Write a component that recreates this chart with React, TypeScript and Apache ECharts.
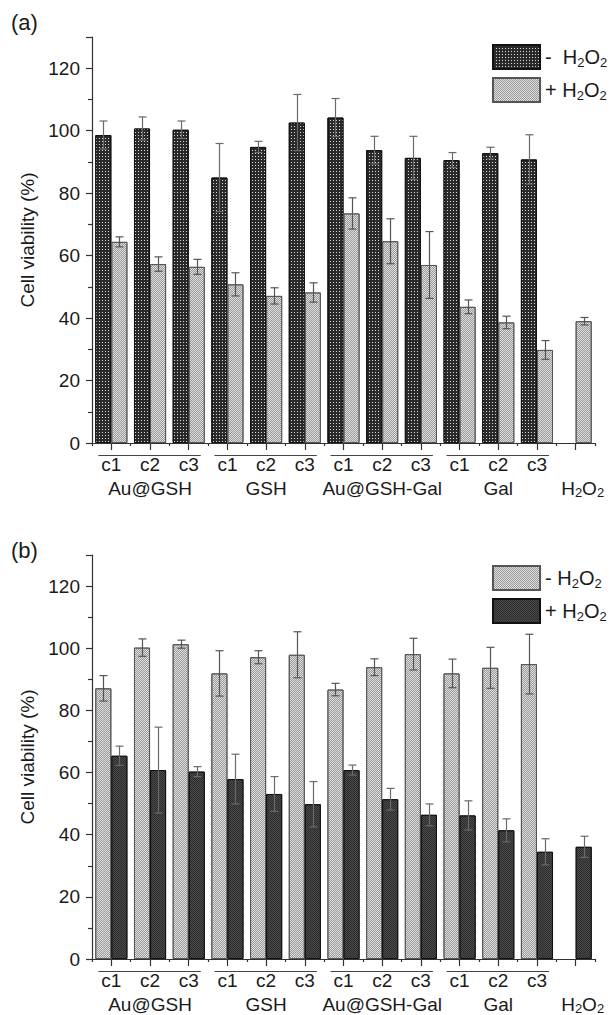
import React, { useEffect, useRef } from 'react';
import * as echarts from 'echarts';

// ---------------- data ----------------
const groupNames = ['Au@GSH', 'GSH', 'Au@GSH-Gal', 'Gal'];
const concLabels = ['c1', 'c2', 'c3'];
const controlName = 'H2O2';
const categories = [
  ...groupNames.flatMap((g) => concLabels.map((c) => g + '|' + c)),
  controlName + '|',
];

// panel (a)
const aMinus = [98.6, 100.7, 100.3, 85.0, 94.8, 102.6, 104.2, 93.8, 91.3, 90.6, 92.8, 90.8, null];
const aMinusErr = [4.5, 3.7, 2.8, 10.9, 1.8, 9.0, 6.1, 4.4, 6.9, 2.4, 1.9, 7.9, null];
const aPlus = [64.4, 57.3, 56.4, 50.8, 47.1, 48.2, 73.5, 64.6, 57.0, 43.6, 38.6, 29.8, 39.0];
const aPlusErr = [1.6, 2.3, 2.4, 3.7, 2.6, 3.1, 5.0, 7.2, 10.7, 2.2, 2.0, 3.0, 1.2];

// panel (b)
const bMinus = [87.1, 100.2, 101.3, 91.9, 97.1, 97.9, 86.7, 93.9, 98.1, 91.9, 93.7, 94.9, null];
const bMinusErr = [4.1, 2.8, 1.3, 7.3, 2.1, 7.4, 2.0, 2.7, 5.1, 4.6, 6.6, 9.6, null];
const bPlus = [65.4, 60.8, 60.3, 57.9, 53.1, 49.8, 60.8, 51.4, 46.4, 46.2, 41.4, 34.5, 36.1];
const bPlusErr = [3.1, 13.8, 1.6, 8.0, 5.6, 7.3, 1.6, 3.5, 3.5, 4.7, 3.7, 4.2, 3.4];

const yMin = 0;
const yMax = 130;
const yInterval = 20;
const yName = 'Cell viability (%)';

// ---------------- styles ----------------
const FONT = "'Liberation Sans', Arial, Helvetica, sans-serif";
const TEXT_COLOR = '#1a1a1a';
const AXIS_COLOR = '#333333';
const BAR_FRAC = 0.415;
const FS = 19;

const darkDotted = {
  color: '#2a2a2a',
  borderColor: '#111111',
  borderWidth: 1,
  decal: {
    symbol: 'rect',
    symbolSize: 1,
    color: '#d8d8d8',
    dashArrayX: [1, 2],
    dashArrayY: [1, 2],
    rotation: 0,
  },
};
const lightChecker = {
  color: '#e0e0e0',
  borderColor: '#555555',
  borderWidth: 1,
  decal: {
    symbol: 'rect',
    symbolSize: 1,
    color: '#989898',
    dashArrayX: [[1, 1], [0, 1, 1, 0]],
    dashArrayY: [1, 0],
    rotation: 0,
  },
};
const darkChecker = {
  color: '#2c2c2c',
  borderColor: '#111111',
  borderWidth: 1,
  decal: {
    symbol: 'rect',
    symbolSize: 1,
    color: '#4a4a4a',
    dashArrayX: [[1, 1], [0, 1, 1, 0]],
    dashArrayY: [1, 0],
    rotation: 0,
  },
};

function errorSeries(name: string, values: (number | null)[], errs: (number | null)[], side: number, axisIndex: number, color: string) {
  const data = values
    .map((v, i) => (v == null || errs[i] == null ? null : [i, v, errs[i]]))
    .filter((d) => d !== null);
  return {
    type: 'custom',
    name,
    xAxisIndex: axisIndex * 2,
    yAxisIndex: axisIndex,
    z: 5,
    silent: true,
    encode: { x: 0, y: 1 },
    data,
    renderItem: (params: any, api: any) => {
      const idx = api.value(0);
      const v = api.value(1);
      const e = api.value(2);
      const band = api.size([1, 0])[0];
      const off = (side * band * BAR_FRAC) / 2;
      const pTop = api.coord([idx, v + e]);
      const pBot = api.coord([idx, v - e]);
      const x = Math.round(pTop[0] + off) + 0.5;
      const hw = 4;
      const style = { stroke: color, lineWidth: 1.2, fill: null };
      return {
        type: 'group',
        children: [
          { type: 'line', shape: { x1: x, y1: pTop[1], x2: x, y2: pBot[1] }, style },
          { type: 'line', shape: { x1: x - hw, y1: pTop[1], x2: x + hw, y2: pTop[1] }, style },
          { type: 'line', shape: { x1: x - hw, y1: pBot[1], x2: x + hw, y2: pBot[1] }, style },
        ],
      };
    },
  };
}

const subRich = {
  h0: { fontSize: FS, lineHeight: 22, fontFamily: FONT, color: TEXT_COLOR, padding: [0, 0, 0, 14] },
  h: { fontSize: FS, lineHeight: 22, fontFamily: FONT, color: TEXT_COLOR },
  s: { fontSize: 13, lineHeight: 12, verticalAlign: 'bottom', fontFamily: FONT, color: TEXT_COLOR },
};

function groupLabelAt(i: number) {
  if (i === categories.length - 1) return '{h0|H}{s|2}{h|O}{s|2}';
  if (i % 3 === 1) return groupNames[(i - 1) / 3];
  return '';
}

function xAxes(gridIndex: number) {
  const lineStyle = { color: AXIS_COLOR, width: 1.2 };
  return [
    {
      type: 'category',
      gridIndex,
      data: categories,
      position: 'bottom',
      axisLine: { show: true, onZero: false, lineStyle },
      axisTick: { show: true, alignWithLabel: false, length: 3, lineStyle },
      axisLabel: {
        interval: 0,
        margin: 12,
        fontSize: FS,
        fontFamily: FONT,
        color: TEXT_COLOR,
        formatter: (v: string) => v.split('|')[1],
      },
    },
    {
      type: 'category',
      gridIndex,
      data: categories,
      position: 'bottom',
      axisLine: { show: false },
      axisTick: { show: true, alignWithLabel: true, length: 7, lineStyle },
      axisLabel: {
        interval: 0,
        margin: 34,
        fontSize: FS,
        lineHeight: 22,
        fontFamily: FONT,
        color: TEXT_COLOR,
        formatter: (_v: string, i: number) => groupLabelAt(i),
        rich: subRich,
      },
    },
  ];
}

function yAxis(gridIndex: number) {
  const lineStyle = { color: AXIS_COLOR, width: 1.2 };
  return {
    type: 'value',
    gridIndex,
    min: yMin,
    max: yMax,
    interval: yInterval,
    name: yName,
    nameLocation: 'middle',
    nameGap: 50,
    nameTextStyle: { fontSize: FS, fontFamily: FONT, color: TEXT_COLOR },
    axisLine: { show: true, lineStyle },
    axisTick: { show: true, length: 6, lineStyle },
    minorTick: { show: true, splitNumber: 2, length: 4, lineStyle },
    splitLine: { show: false },
    axisLabel: { showMaxLabel: false, margin: 12, fontSize: FS, fontFamily: FONT, color: TEXT_COLOR },
  };
}

function legend(top: number, names: string[]) {
  return {
    orient: 'vertical',
    left: 487,
    top,
    itemWidth: 47,
    itemHeight: 24,
    itemGap: 7,
    icon: 'rect',
    data: names,
    formatter: (n: string) => n.split(':')[1].replace('H2O2', 'H{s|2}O{s|2}'),
    textStyle: {
      fontSize: 20,
      lineHeight: 24,
      fontFamily: FONT,
      color: TEXT_COLOR,
      rich: {
        s: { fontSize: 13, lineHeight: 12, verticalAlign: 'bottom', fontFamily: FONT, color: TEXT_COLOR },
      },
    },
  };
}

function barSeries(name: string, data: (number | null)[], axisIndex: number, itemStyle: any) {
  return {
    type: 'bar',
    name,
    xAxisIndex: axisIndex * 2,
    yAxisIndex: axisIndex,
    data,
    barWidth: BAR_FRAC * 100 + '%',
    barGap: '0%',
    itemStyle,
  };
}

export default function App() {
  const ref = useRef<HTMLDivElement>(null);
  useEffect(() => {
    if (!ref.current) return;
    const chart = echarts.init(ref.current, undefined, { renderer: 'svg' });
    const option: any = {
      animation: false,
      backgroundColor: '#ffffff',
      grid: [
        { left: 92, right: 17, top: 37, bottom: 572 },
        { left: 92, right: 17, top: 555, bottom: 55 },
      ],
      xAxis: [...xAxes(0), ...xAxes(1)],
      yAxis: [yAxis(0), yAxis(1)],
      legend: [
        legend(39, ['a:-  H2O2', 'a:+ H2O2']),
        legend(560, ['b:- H2O2', 'b:+ H2O2']),
      ],
      series: [
        barSeries('a:-  H2O2', aMinus, 0, darkDotted),
        barSeries('a:+ H2O2', aPlus, 0, lightChecker),
        errorSeries('a:-err', aMinus, aMinusErr, -1, 0, '#6a6a6a'),
        errorSeries('a:+err', aPlus, aPlusErr, 1, 0, '#555555'),
        barSeries('b:- H2O2', bMinus, 1, lightChecker),
        barSeries('b:+ H2O2', bPlus, 1, darkChecker),
        errorSeries('b:-err', bMinus, bMinusErr, -1, 1, '#555555'),
        errorSeries('b:+err', bPlus, bPlusErr, 1, 1, '#6a6a6a'),
      ],
    };
    chart.setOption(option);

    const graphics: any[] = [
      { type: 'text', left: 11, top: 11, style: { text: '(a)', fontSize: 22, fontFamily: FONT, fill: TEXT_COLOR } },
      { type: 'text', left: 11, top: 539, style: { text: '(b)', fontSize: 22, fontFamily: FONT, fill: TEXT_COLOR } },
    ];
    [0, 1].forEach((pi) => {
      const y0 = chart.convertToPixel({ yAxisIndex: pi } as any, 0) as number;
      groupNames.forEach((_g, gi) => {
        const x1 = chart.convertToPixel({ xAxisIndex: pi * 2 } as any, gi * 3) as number;
        const x2 = chart.convertToPixel({ xAxisIndex: pi * 2 } as any, gi * 3 + 2) as number;
        graphics.push({
          type: 'line',
          shape: { x1: x1 - 13, y1: y0 + 12.5, x2: x2 + 12, y2: y0 + 12.5 },
          style: { stroke: '#444444', lineWidth: 1.2 },
        });
      });
    });
    chart.setOption({ graphic: graphics });

    return () => chart.dispose();
  }, []);
  return (
    <div
      ref={ref}
      style={{ position: 'absolute', left: 0, top: 0, width: 612, height: 1015, background: '#fff' }}
    />
  );
}
